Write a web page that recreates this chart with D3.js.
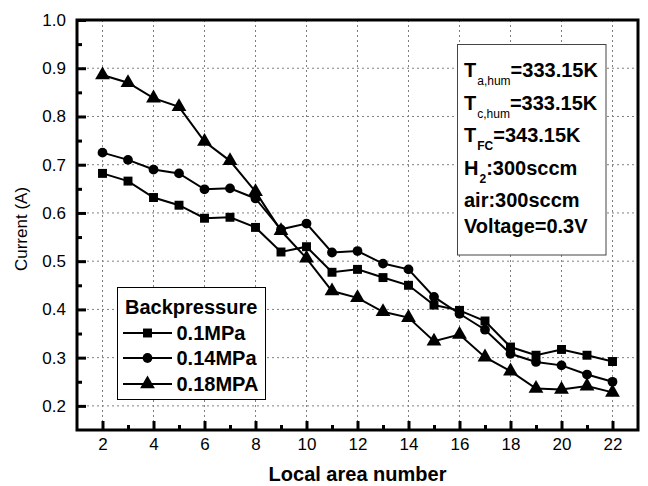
<!DOCTYPE html>
<html><head><meta charset="utf-8">
<script src="https://cdn.jsdelivr.net/npm/d3@7"></script>
<style>body{margin:0;background:#fff}svg{display:block}</style>
</head><body>
<svg id="c" width="648" height="486"></svg>
<script>
const areas = [2,3,4,5,6,7,8,9,10,11,12,13,14,15,16,17,18,19,20,21,22];
const s01  = [0.682,0.666,0.632,0.616,0.589,0.591,0.570,0.519,0.530,0.477,0.483,0.466,0.450,0.409,0.398,0.376,0.322,0.305,0.317,0.305,0.292];
const s014 = [0.725,0.710,0.690,0.682,0.649,0.651,0.630,0.566,0.578,0.518,0.521,0.495,0.483,0.426,0.391,0.358,0.308,0.291,0.284,0.265,0.250];
const s018 = [0.886,0.870,0.838,0.820,0.748,0.708,0.644,0.563,0.506,0.438,0.424,0.395,0.383,0.334,0.348,0.301,0.272,0.236,0.234,0.241,0.228];
const seriesNames = ["0.1MPa","0.14MPa","0.18MPA"];
const xTicks = [2,4,6,8,10,12,14,16,18,20,22];
const yTicks = [0.2,0.3,0.4,0.5,0.6,0.7,0.8,0.9,1.0];
const legendTitle = "Backpressure";
const xTitle = "Local area number";
const yTitle = "Current (A)";

const FONT = "'Liberation Sans', Arial, sans-serif";
const svg = d3.select("#c");
const L = 77, R = 638, T = 20, B = 430;
const x = d3.scaleLinear().domain([1, 23]).range([L, R]);
const y = d3.scaleLinear().domain([0.15, 1.0]).range([B, T]);

// grid
const grid = svg.append("g").attr("stroke", "#808080").attr("stroke-width", 1).attr("stroke-dasharray", "2,3");
grid.selectAll("line.v").data(xTicks).join("line")
  .attr("x1", d => x(d)).attr("x2", d => x(d)).attr("y1", T).attr("y2", B);
grid.selectAll("line.h").data(yTicks.filter(d => d < 1)).join("line")
  .attr("y1", d => y(d)).attr("y2", d => y(d)).attr("x1", L).attr("x2", R);

// axes
const xAxis = d3.axisBottom(x).tickValues(xTicks).tickSize(-9).tickFormat(d3.format("d")).tickPadding(8);
svg.append("g").attr("transform", `translate(0,${B})`).call(xAxis);
const xMinor = d3.axisBottom(x).tickValues(d3.range(3, 22, 2)).tickSize(-5).tickFormat("");
svg.append("g").attr("transform", `translate(0,${B})`).call(xMinor);
const yAxis = d3.axisLeft(y).tickValues(yTicks).tickSize(-9).tickFormat(d3.format(".1f")).tickPadding(11);
svg.append("g").attr("transform", `translate(${L},0)`).call(yAxis);
const yMinor = d3.axisLeft(y).tickValues(d3.range(0.25, 1.0, 0.1)).tickSize(-5).tickFormat("");
svg.append("g").attr("transform", `translate(${L},0)`).call(yMinor);
svg.selectAll(".domain").remove();
svg.selectAll(".tick line").attr("stroke", "#000").attr("stroke-width", 3);
svg.selectAll(".tick text").attr("font-family", FONT).attr("font-size", 17).attr("fill", "#000");

// frame
svg.append("rect").attr("x", L).attr("y", T).attr("width", R - L).attr("height", B - T)
  .attr("fill", "none").attr("stroke", "#000").attr("stroke-width", 3);

// titles
svg.append("text").attr("x", (L + R) / 2).attr("y", 481).attr("text-anchor", "middle")
  .attr("font-family", FONT).attr("font-size", 20).attr("font-weight", "bold").text(xTitle);
svg.append("text").attr("transform", "translate(27,229) rotate(-90)").attr("text-anchor", "middle")
  .attr("font-family", FONT).attr("font-size", 17).text(yTitle);

// series
const allSeries = [s01, s014, s018];
const symbols = [d3.symbolSquare, d3.symbolCircle, d3.symbolTriangle];
const symSizes = [80, 75, 95];
const line = d3.line().x((d, i) => x(areas[i])).y(d => y(d));
const plot = svg.append("g");
allSeries.forEach((s, k) => {
  plot.append("path").attr("d", line(s)).attr("fill", "none").attr("stroke", "#000").attr("stroke-width", 2);
  plot.selectAll(null).data(s).join("path")
    .attr("transform", (d, i) => `translate(${x(areas[i])},${y(d)})`)
    .attr("d", d3.symbol(symbols[k], symSizes[k])).attr("fill", "#000");
});

// legend
const lg = svg.append("g");
lg.append("rect").attr("x", 117.5).attr("y", 287.5).attr("width", 148).attr("height", 112)
  .attr("fill", "#fff").attr("stroke", "#000").attr("stroke-width", 1);
lg.append("text").attr("x", 125).attr("y", 314).attr("font-family", FONT).attr("font-size", 20)
  .attr("font-weight", "bold").text(legendTitle);
const rows = [333, 358, 384];
seriesNames.forEach((n, k) => {
  lg.append("line").attr("x1", 123).attr("x2", 172).attr("y1", rows[k]).attr("y2", rows[k])
    .attr("stroke", "#000").attr("stroke-width", 2);
  lg.append("path").attr("transform", `translate(147.5,${rows[k]})`)
    .attr("d", d3.symbol(symbols[k], symSizes[k])).attr("fill", "#000");
  lg.append("text").attr("x", 176.5).attr("y", rows[k] + 7).attr("font-family", FONT).attr("font-size", 20)
    .attr("font-weight", "bold").text(n);
});

// annotation box
const ann = svg.append("g");
ann.append("rect").attr("x", 457.5).attr("y", 44.5).attr("width", 148.5).attr("height", 210.5)
  .attr("fill", "#fff").attr("stroke", "#444").attr("stroke-width", 1);
const annLines = [
  {main: "T", sub: "a,hum", rest: "=333.15K", y: 76.5, subBold: false},
  {main: "T", sub: "c,hum", rest: "=333.15K", y: 109.5, subBold: false},
  {main: "T", sub: "FC", rest: "=343.15K", y: 141.5, subBold: true},
  {main: "H", sub: "2", rest: ":300sccm", y: 175, subBold: true},
  {main: "air:300sccm", sub: null, rest: "", y: 207},
  {main: "Voltage=0.3V", sub: null, rest: "", y: 232.5}
];
annLines.forEach(l => {
  const t = ann.append("text").attr("x", 464).attr("y", l.y).attr("font-family", FONT)
    .attr("font-size", 20).attr("font-weight", "bold");
  t.append("tspan").text(l.main);
  if (l.sub) {
    t.append("tspan").attr("dy", 8).attr("dx", 1).attr("font-size", 12)
      .attr("font-weight", l.subBold ? "bold" : "normal").text(l.sub);
    t.append("tspan").attr("dy", -8).text(l.rest);
  }
});
</script>
</body></html>
